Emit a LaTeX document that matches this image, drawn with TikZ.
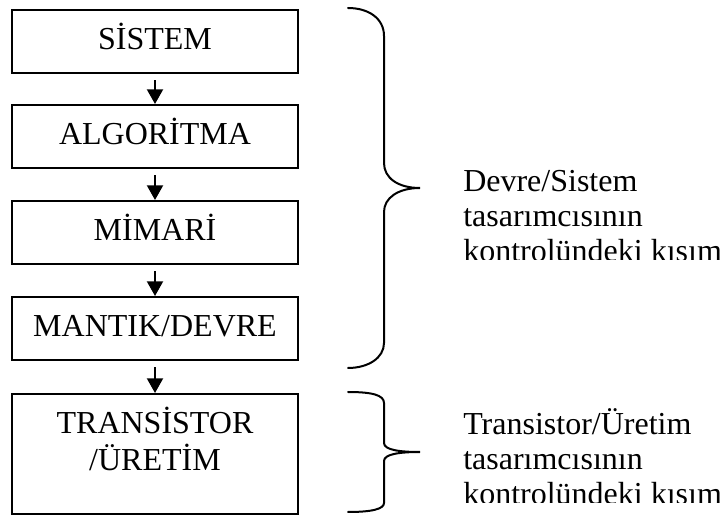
\documentclass[tikz,border=0pt]{standalone}
\usepackage{fontspec}
\setmainfont{Liberation Serif}
\usetikzlibrary{arrows.meta}
\begin{document}
\begin{tikzpicture}[x=0.75pt,y=-0.75pt,
  box/.style={draw, line width=1.5pt, minimum width=214.5pt, inner sep=0pt, anchor=north,
    text height=30pt, text depth=17.6pt, font=\fontsize{24pt}{27pt}\selectfont},
  arr/.style={line width=1.5pt, -{Triangle[length=11pt,width=12pt]}, shorten <=4.5pt},
  brace/.style={line width=1.5pt, line cap=round},
  note/.style={anchor=base west, inner sep=0pt, font=\fontsize{24pt}{26.25pt}\selectfont}]
\useasboundingbox (0,0) rectangle (725,516);

\node[box] (b1) at (155,9) {SİSTEM};
\node[box] (b2) at (155,104) {ALGORİTMA};
\node[box] (b3) at (155,200) {MİMARİ};
\node[box] (b4) at (155,296) {MANTIK/DEVRE};
\node[box, text height=29.5pt, text depth=60.5pt] (b5) at (155,393)
  {\begin{tabular}[t]{@{}c@{}}TRANSİSTOR\\/ÜRETİM\end{tabular}};

\draw[arr] (b1.south) -- (b2.north);
\draw[arr] (b2.south) -- (b3.north);
\draw[arr] (b3.south) -- (b4.north);
\draw[arr] (b4.south) -- (b5.north);

% big brace
\draw[brace] (348,8) .. controls (368,8) and (384,18) .. (384,36)
  -- (384,163) .. controls (384,178) and (398,188) .. (420,188)
  .. controls (398,188) and (384,198) .. (384,212)
  -- (384,343) .. controls (384,358) and (368,368) .. (348,368);
% small brace
\draw[brace] (348,392) .. controls (372,392) and (384,395) .. (384,403)
  -- (384,443) .. controls (384,450) and (400,452) .. (420,452)
  .. controls (400,452) and (384,454) .. (384,461)
  -- (384,503) .. controls (384,509) and (372,512) .. (348,512);

\begin{scope}
  \clip (455,150) rectangle (725,260);
  \node[note] (n1) at (463,192)
    {\begin{tabular}[t]{@{}l@{}}Devre/Sistem\\tasarımcısının\\kontrolündeki kısım\end{tabular}};
\end{scope}
\begin{scope}
  \clip (455,400) rectangle (725,503);
  \node[note] (n2) at (463,435)
    {\begin{tabular}[t]{@{}l@{}}Transistor/Üretim\\tasarımcısının\\kontrolündeki kısım\end{tabular}};
\end{scope}
\end{tikzpicture}
\end{document}
